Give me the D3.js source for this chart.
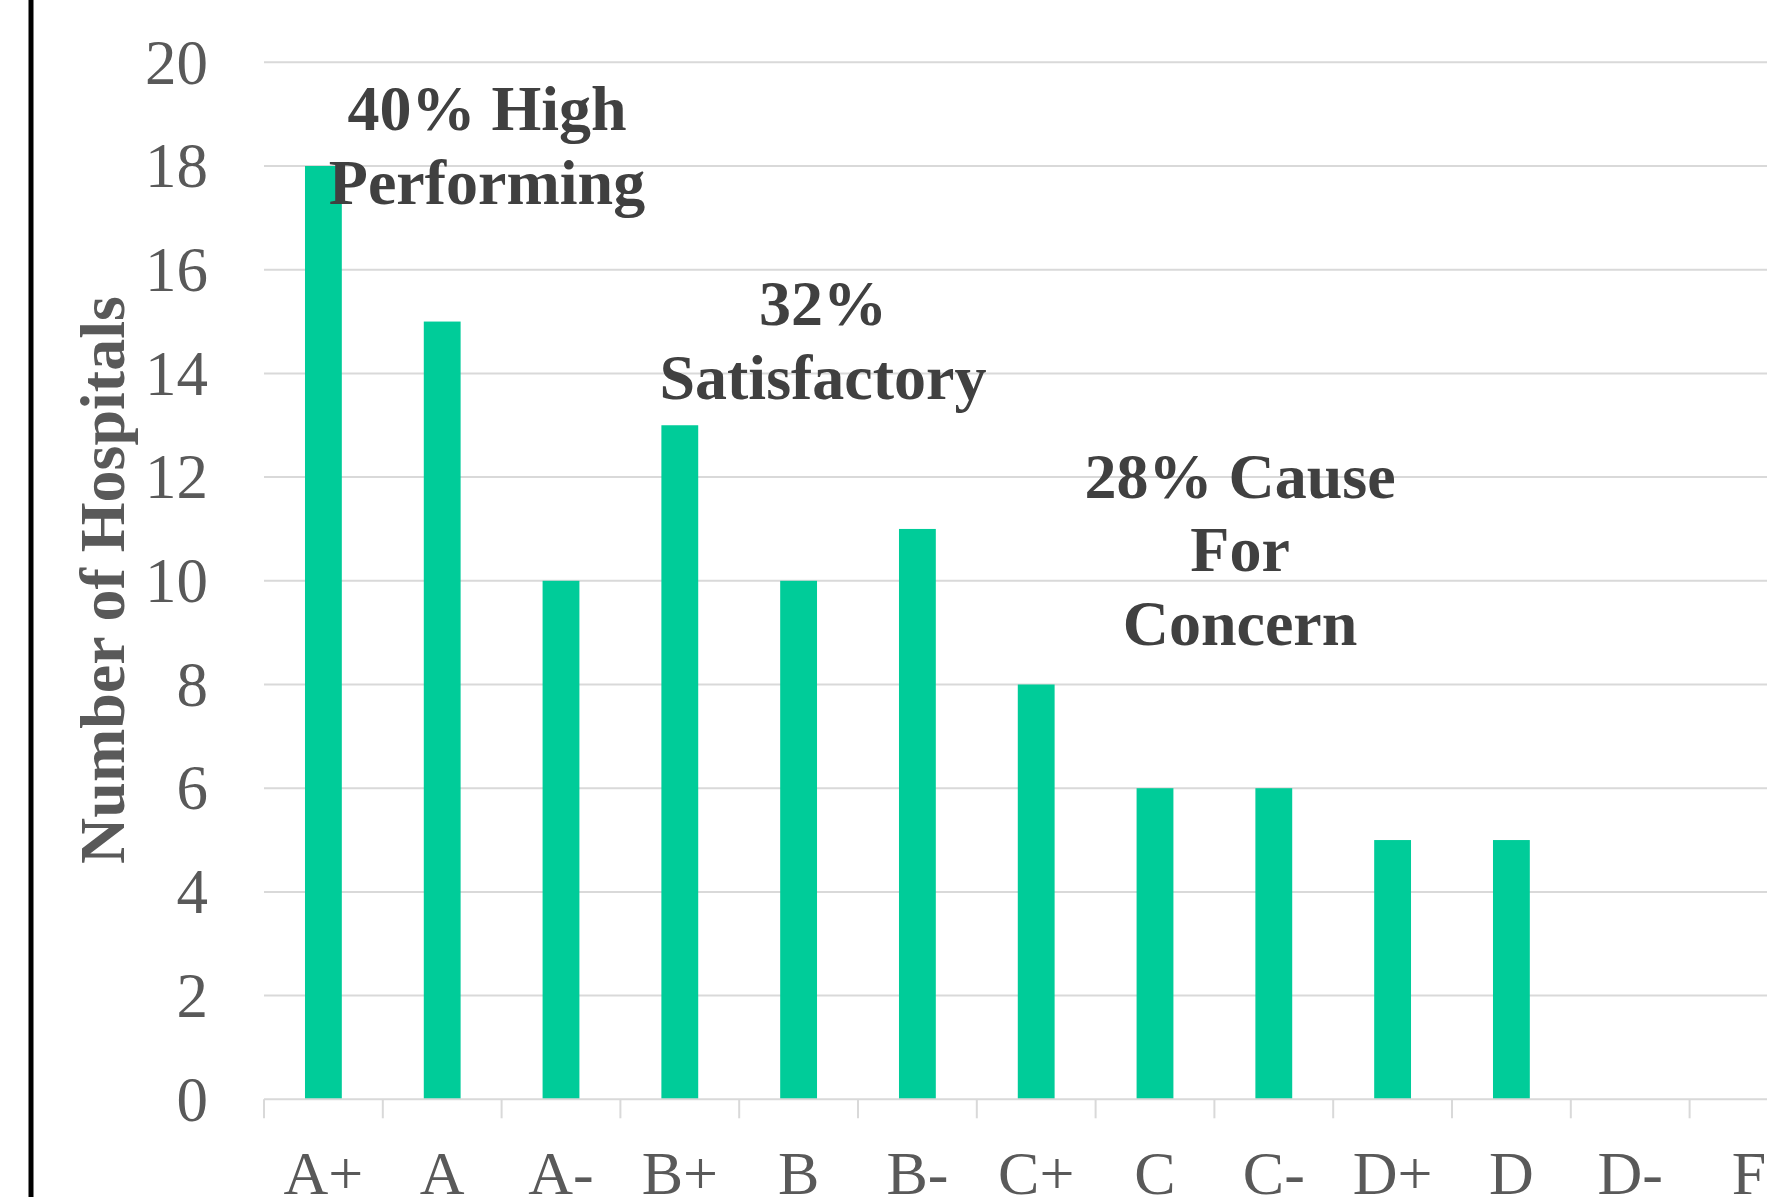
<!DOCTYPE html>
<html>
<head>
<meta charset="utf-8">
<script src="https://cdn.jsdelivr.net/npm/d3@7"></script>
<style>
  html, body { margin: 0; padding: 0; background: #fff; overflow: hidden; }
  svg { display: block; }
  text { font-family: "Liberation Serif", "Times New Roman", serif; }
</style>
</head>
<body>
<svg id="chart" width="1767" height="1197"></svg>
<script>
const categories = ["A+", "A", "A-", "B+", "B", "B-", "C+", "C", "C-", "D+", "D", "D-", "F"];
const hospitals = [18, 15, 10, 13, 10, 11, 8, 6, 6, 5, 5, 0, 0];
const yTicks = [0, 2, 4, 6, 8, 10, 12, 14, 16, 18, 20];
const yTitle = "Number of Hospitals";
const annotations = [
  { lines: ["40% High", "Performing"], cat: "A", value: 18.69, shift: 0.377 },
  { lines: ["32%", "Satisfactory"], cat: "B", value: 14.93, shift: 0.205 },
  { lines: ["28% Cause", "For", "Concern"], cat: "C+", value: 11.6, shift: 1.716 }
];

const W = 1767, H = 1197;
const plot = { left: 264, top: 62.3, bottom: 1099.3 };
const bandW = 118.8;
const svg = d3.select("#chart");

const x = d3.scaleBand().domain(categories)
  .range([plot.left, plot.left + bandW * categories.length])
  .paddingInner(0).paddingOuter(0);
const y = d3.scaleLinear().domain([0, 20]).range([plot.bottom, plot.top]);

// left border
svg.append("line").attr("x1", 31).attr("x2", 31).attr("y1", 0).attr("y2", H)
  .attr("stroke", "#000").attr("stroke-width", 5);

// gridlines
svg.append("g").selectAll("line").data(yTicks.filter(d => d > 0)).join("line")
  .attr("x1", plot.left).attr("x2", W)
  .attr("y1", d => y(d)).attr("y2", d => y(d))
  .attr("stroke", "#d9d9d9").attr("stroke-width", 2);

// bars
const barW = x.bandwidth() * 0.31;
svg.append("g").selectAll("rect").data(categories.map((c, i) => ({ c, v: hospitals[i] })).filter(d => d.v > 0)).join("rect")
  .attr("x", d => x(d.c) + (x.bandwidth() - barW) / 2)
  .attr("width", barW)
  .attr("y", d => y(d.v))
  .attr("height", d => y(0) - y(d.v))
  .attr("fill", "#00cc99");

// x axis baseline + ticks
const xAxis = d3.axisBottom(x).tickSize(0).tickFormat("");
const xg = svg.append("g").attr("transform", `translate(0,${plot.bottom})`).call(xAxis);
xg.select(".domain").remove();
xg.append("line").attr("x1", plot.left).attr("x2", W).attr("y1", 0).attr("y2", 0)
  .attr("stroke", "#d9d9d9").attr("stroke-width", 2);
const bounds = categories.map(c => x(c)).concat([x.range()[1]]);
xg.selectAll("line.tk").data(bounds).join("line").attr("class", "tk")
  .attr("x1", d => d).attr("x2", d => d).attr("y1", 0).attr("y2", 19)
  .attr("stroke", "#d9d9d9").attr("stroke-width", 2);
// x labels
svg.append("g").selectAll("text").data(categories).join("text")
  .attr("x", d => x(d) + x.bandwidth() / 2)
  .attr("y", 1194)
  .attr("text-anchor", "middle")
  .attr("font-size", 62)
  .attr("fill", "#595959")
  .text(d => d);

// y labels
const yAxis = d3.axisLeft(y).tickValues(yTicks).tickSize(0).tickPadding(56);
const yg = svg.append("g").attr("transform", `translate(${plot.left},0)`).call(yAxis);
yg.select(".domain").remove();
yg.selectAll("text")
  .attr("font-family", "Liberation Serif, Times New Roman, serif")
  .attr("font-size", 63)
  .attr("fill", "#595959")
  .attr("dy", "0.33em");

// y title
svg.append("text")
  .attr("transform", `translate(124,580) rotate(-90)`)
  .attr("text-anchor", "middle")
  .attr("font-size", 64)
  .attr("font-weight", "bold")
  .attr("fill", "#595959")
  .text(yTitle);

// annotations
const lineH = 73.5;
annotations.forEach(a => {
  const cx = x(a.cat) + x.bandwidth() / 2 + a.shift * x.bandwidth();
  const t = svg.append("text")
    .attr("text-anchor", "middle")
    .attr("font-size", 64)
    .attr("font-weight", "bold")
    .attr("fill", "#404040");
  a.lines.forEach((l, i) => {
    t.append("tspan").attr("x", cx).attr("y", y(a.value) + i * lineH).text(l);
  });
});
</script>
</body>
</html>
